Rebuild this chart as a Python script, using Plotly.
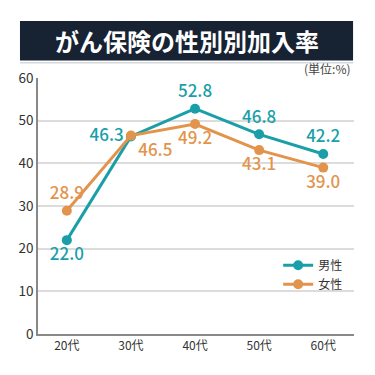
import plotly.graph_objects as go

categories = ["20代", "30代", "40代", "50代", "60代"]
male = [22.0, 46.3, 52.8, 46.8, 42.2]
female = [28.9, 46.5, 49.2, 43.1, 39.0]
male_pos = ["bottom center", "middle left", "top center", "top center", "top center"]
female_pos = ["top center", "bottom right", "bottom center", "bottom center", "bottom center"]
y_ticks = [0, 10, 20, 30, 40, 50, 60]

TEAL = "#1a9fa9"
ORANGE = "#e2944c"
FONT = "Noto Sans CJK JP"

fig = go.Figure()
fig.add_trace(go.Scatter(
    x=categories, y=male, name="男性", mode="lines+markers+text",
    line=dict(color=TEAL, width=3), marker=dict(size=10, color=TEAL),
    text=[f"{v:.1f}" for v in male], textposition=male_pos,
    textfont=dict(color=TEAL, size=17, family=FONT, weight=500), cliponaxis=False,
))
fig.add_trace(go.Scatter(
    x=categories, y=female, name="女性", mode="lines+markers+text",
    line=dict(color=ORANGE, width=3), marker=dict(size=10, color=ORANGE),
    text=[f"{v:.1f}" for v in female], textposition=female_pos,
    textfont=dict(color=ORANGE, size=17, family=FONT, weight=500), cliponaxis=False,
))

fig.update_layout(
    width=375, height=375,
    margin=dict(l=30, r=29, t=70, b=49),
    paper_bgcolor="white", plot_bgcolor="white",
    font=dict(family=FONT, color="#333333", size=12),
    showlegend=True,
    legend=dict(x=0.76, y=0.325, xanchor="left", yanchor="top",
                bgcolor="rgba(0,0,0,0)", font=dict(size=12, color="#333"),
                itemwidth=30, tracegroupgap=0),
    xaxis=dict(range=[-0.45, 4.48], showline=True, linecolor="#888", linewidth=1.5,
               showgrid=False, ticks="", tickfont=dict(size=12, color="#333"), fixedrange=True),
    yaxis=dict(range=[0, 60], tickvals=y_ticks, showline=True, linecolor="#888", linewidth=1.5,
               showgrid=True, gridcolor="#dcdcdc", gridwidth=1.5, zeroline=False,
               ticks="", tickfont=dict(size=13.5, color="#333"), fixedrange=True),
    shapes=[
        dict(type="rect", xref="paper", yref="paper", x0=-0.057, x1=0.997, y0=1.068, y1=1.2227,
             fillcolor="#172233", line=dict(width=0), layer="above"),
        dict(type="line", xref="paper", yref="paper", x0=-0.057, x1=0.997, y0=1.060, y1=1.060,
             line=dict(color="#d5d8dc", width=1.5)),
    ],
    annotations=[
        dict(text="<b>がん保険の性別別加入率</b>", xref="paper", yref="paper", x=0.47, y=1.145,
             showarrow=False, xanchor="center", yanchor="middle",
             font=dict(size=24, color="white", family=FONT)),
        dict(text="(単位:%)", xref="paper", yref="paper", x=0.997, y=1.036,
             showarrow=False, xanchor="right", yanchor="middle",
             font=dict(size=12, color="#444", family=FONT)),
    ],
)

fig.write_html("out.html")
